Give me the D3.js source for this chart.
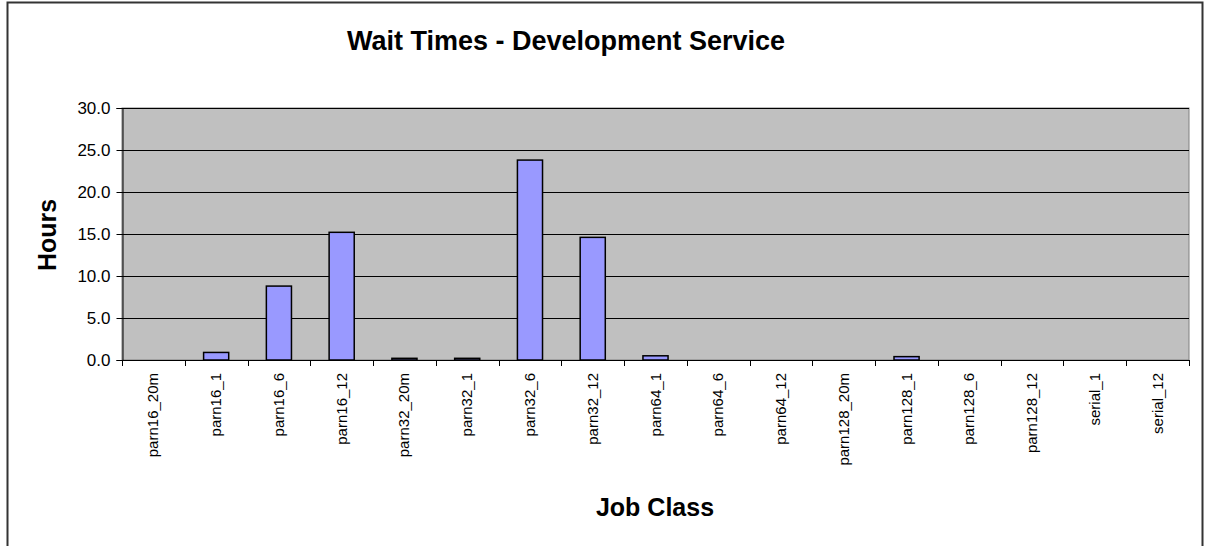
<!DOCTYPE html>
<html>
<head>
<meta charset="utf-8">
<script src="https://cdn.jsdelivr.net/npm/d3@7"></script>
<style>
  html, body { margin: 0; padding: 0; background: #fff; }
  svg { display: block; font-family: "Liberation Sans", Arial, sans-serif; }
</style>
</head>
<body>
<svg id="chart" width="1206" height="546"></svg>
<script>
const categories = ["parn16_20m","parn16_1","parn16_6","parn16_12","parn32_20m","parn32_1","parn32_6","parn32_12","parn64_1","parn64_6","parn64_12","parn128_20m","parn128_1","parn128_6","parn128_12","serial_1","serial_12"];
const hours = [0, 0.9, 8.8, 15.2, 0.2, 0.2, 23.8, 14.6, 0.5, 0, 0, 0, 0.4, 0, 0, 0, 0];
const yTicks = [0, 5, 10, 15, 20, 25, 30];
const titleText = "Wait Times - Development Service";
const xTitle = "Job Class";
const yTitle = "Hours";

const svg = d3.select("#chart");
const plot = {left: 122, right: 1189, top: 108, bottom: 360};

// outer chart border (top, left, right)
svg.append("path")
  .attr("d", "M7.5,546 V2.5 H1202.5 V546")
  .attr("fill", "none").attr("stroke", "#333").attr("stroke-width", 2);

const x = d3.scaleBand().domain(categories).range([plot.left, plot.right]).paddingInner(0.6).paddingOuter(0.3);
const y = d3.scaleLinear().domain([0, 30]).range([plot.bottom, plot.top]);

// plot background
svg.append("rect")
  .attr("x", plot.left).attr("y", plot.top)
  .attr("width", plot.right - plot.left).attr("height", plot.bottom - plot.top)
  .attr("fill", "#C0C0C0").attr("stroke", "#808080").attr("stroke-width", 1);

// gridlines
svg.append("g").selectAll("line").data(yTicks).join("line")
  .attr("x1", plot.left).attr("x2", plot.right)
  .attr("y1", d => Math.round(y(d)) + 0.5).attr("y2", d => Math.round(y(d)) + 0.5)
  .attr("stroke", "#000").attr("stroke-width", 1);

// bars
svg.append("g").selectAll("rect").data(categories).join("rect")
  .attr("x", d => x(d))
  .attr("y", (d, i) => y(hours[i]))
  .attr("width", x.bandwidth())
  .attr("height", (d, i) => y(0) - y(hours[i]))
  .attr("fill", "#9999FF")
  .attr("stroke", (d, i) => hours[i] > 0 ? "#000" : "none")
  .attr("stroke-width", 1.5);

// y axis
const yAxis = svg.append("g")
  .attr("transform", `translate(${plot.left + 0.5},0)`)
  .call(d3.axisLeft(y).tickValues(yTicks).tickFormat(d3.format(".1f")).tickSize(6).tickPadding(6));
yAxis.select(".domain").attr("stroke", "#000");
yAxis.selectAll(".tick line").attr("stroke", "#000");
yAxis.selectAll(".tick text").attr("font-size", 17).attr("fill", "#000")
  .attr("font-family", "Liberation Sans, Arial, sans-serif");

// x axis: ticks at category boundaries
const boundaries = d3.range(categories.length + 1).map(i => plot.left + i * (plot.right - plot.left) / categories.length);
const xg = svg.append("g");
xg.append("line")
  .attr("x1", plot.left).attr("x2", plot.right)
  .attr("y1", plot.bottom + 0.5).attr("y2", plot.bottom + 0.5)
  .attr("stroke", "#000");
xg.selectAll("line.tk").data(boundaries).join("line").attr("class", "tk")
  .attr("x1", d => Math.round(d) + 0.5).attr("x2", d => Math.round(d) + 0.5)
  .attr("y1", plot.bottom).attr("y2", plot.bottom + 6)
  .attr("stroke", "#000");
xg.selectAll("text").data(categories).join("text")
  .attr("transform", d => `translate(${x(d) + x.bandwidth() / 2 + 5},${plot.bottom + 13}) rotate(-90)`)
  .attr("text-anchor", "end")
  .attr("font-size", 15)
  .attr("fill", "#000")
  .text(d => d);

// titles
svg.append("text")
  .attr("x", 566).attr("y", 50)
  .attr("text-anchor", "middle")
  .attr("font-size", 27).attr("font-weight", "bold")
  .text(titleText);

svg.append("text")
  .attr("x", 655).attr("y", 516)
  .attr("text-anchor", "middle")
  .attr("font-size", 25).attr("font-weight", "bold")
  .text(xTitle);

svg.append("text")
  .attr("transform", "translate(56,235) rotate(-90)")
  .attr("text-anchor", "middle")
  .attr("font-size", 25).attr("font-weight", "bold")
  .text(yTitle);
</script>
</body>
</html>
